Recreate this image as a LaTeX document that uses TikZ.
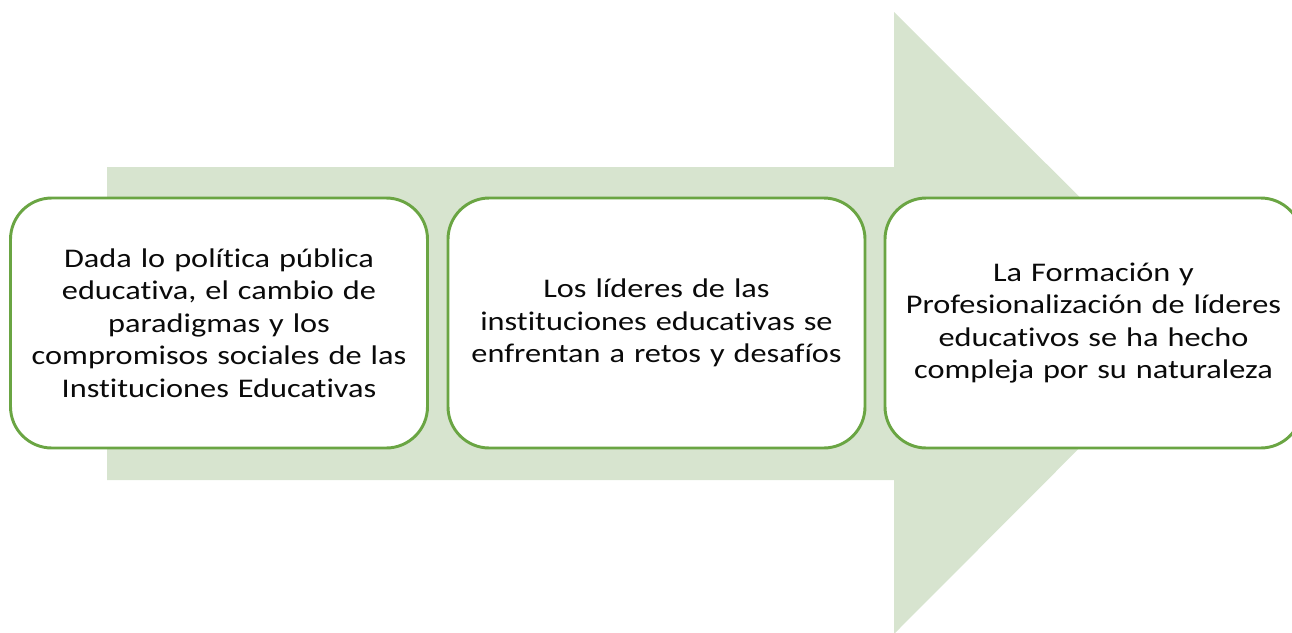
\documentclass[tikz,border=0pt]{standalone}
\usepackage{fontspec}
\setmainfont{Carlito}[FakeStretch=1.2,Ligatures=NoCommon]
\definecolor{arrowfill}{HTML}{D7E4CF}
\definecolor{boxline}{HTML}{6AA543}
\definecolor{txt}{HTML}{0A0A0A}
\begin{document}
\begin{tikzpicture}[x=0.75pt,y=-0.75pt,
  stepbox/.style={draw=boxline,line width=2.2pt,fill=white,rounded corners=31pt,
    minimum width=417*0.75pt,minimum height=250*0.75pt,text width=410*0.75pt,
    align=center,inner sep=0pt,text=txt,
    font=\fontsize{20.2pt}{24.4pt}\selectfont}]
\useasboundingbox (0,0) rectangle (1292,632);
\begin{scope}
\clip (0,0) rectangle (1292,632);
\fill[arrowfill] (107,167) -- (894,167) -- (894,12) -- (1205,322) -- (894,634) -- (894,480) -- (107,480) -- cycle;
\node[stepbox] (b1) at (219,323) {Dada lo política pública\\educativa, el cambio de\\paradigmas y los\\compromisos sociales de las\\Instituciones Educativas};
\node[stepbox] (b2) at (656.5,323) {Los líderes de las\\instituciones educativas se\\enfrentan a retos y desafíos};
\node[stepbox] (b3) at (1093.5,323) {La Formación y\\Profesionalización de líderes\\educativos se ha hecho\\compleja por su naturaleza};
\end{scope}
\end{tikzpicture}
\end{document}
